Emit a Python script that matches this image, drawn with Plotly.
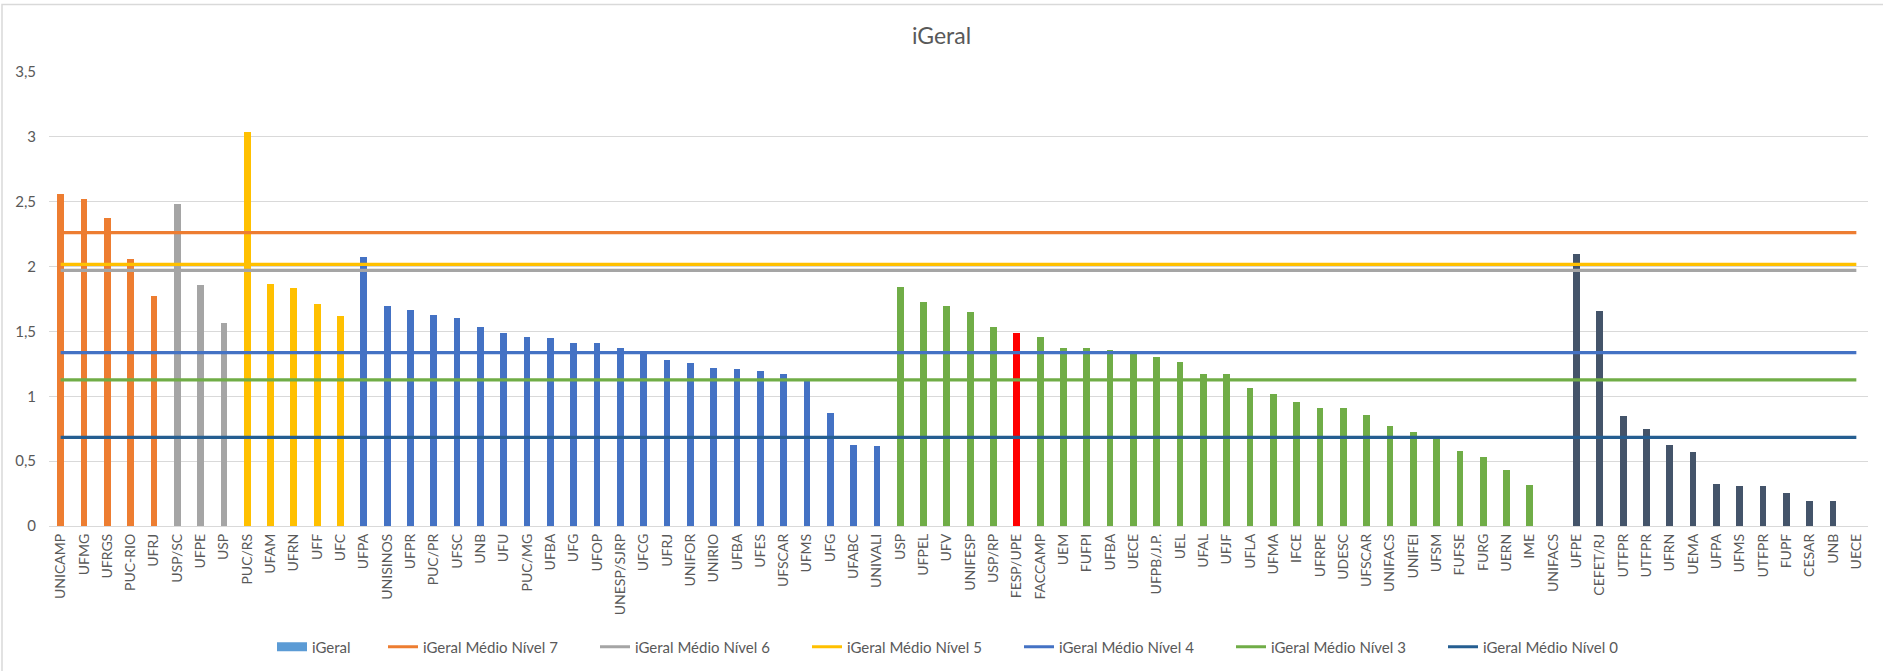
import plotly.graph_objects as go

# ---------------- data ----------------
categories = [
    "UNICAMP", "UFMG", "UFRGS", "PUC-RIO", "UFRJ",
    "USP/SC", "UFPE", "USP",
    "PUC/RS", "UFAM", "UFRN", "UFF", "UFC",
    "UFPA", "UNISINOS", "UFPR", "PUC/PR", "UFSC", "UNB", "UFU", "PUC/MG", "UFBA", "UFG",
    "UFOP", "UNESP/SJRP", "UFCG", "UFRJ", "UNIFOR", "UNIRIO", "UFBA", "UFES", "UFSCAR",
    "UFMS", "UFG", "UFABC", "UNIVALI",
    "USP", "UFPEL", "UFV", "UNIFESP", "USP/RP", "FESP/UPE", "FACCAMP", "UEM", "FUFPI",
    "UFBA", "UECE", "UFPB/J.P.", "UEL", "UFAL", "UFJF", "UFLA", "UFMA", "IFCE", "UFRPE",
    "UDESC", "UFSCAR", "UNIFACS", "UNIFEI", "UFSM", "FUFSE", "FURG", "UERN", "IME", "UNIFACS",
    "UFPE", "CEFET/RJ", "UTFPR", "UTFPR", "UFRN", "UEMA", "UFPA", "UFMS", "UTFPR", "FUPF",
    "CESAR", "UNB", "UECE",
]

igeral = [
    2.56, 2.52, 2.375, 2.055, 1.77,
    2.48, 1.857, 1.565,
    3.036, 1.862, 1.837, 1.714, 1.62,
    2.075, 1.694, 1.667, 1.625, 1.60, 1.537, 1.49, 1.457, 1.449, 1.413,
    1.413, 1.369, 1.33, 1.278, 1.259, 1.22, 1.212, 1.195, 1.17,
    1.12, 0.87, 0.625, 0.62,
    1.843, 1.727, 1.694, 1.647, 1.537, 1.49, 1.457, 1.369, 1.369,
    1.36, 1.33, 1.30, 1.264, 1.17, 1.17, 1.063, 1.019, 0.958, 0.906,
    0.906, 0.856, 0.768, 0.727, 0.677, 0.575, 0.531, 0.432, 0.319, 0.0,
    2.096, 1.658, 0.851, 0.749, 0.625, 0.57, 0.325, 0.305, 0.305, 0.258,
    0.19, 0.19, 0.0,
]

# program level (Nível) of each bar
nivel = [7] * 5 + [6] * 3 + [5] * 5 + [4] * 23 + [3] * 29 + [0] * 13
highlight = "FESP/UPE"

avg_names = ["iGeral Médio Nível 7", "iGeral Médio Nível 6", "iGeral Médio Nível 5",
             "iGeral Médio Nível 4", "iGeral Médio Nível 3", "iGeral Médio Nível 0"]
avg_levels = [7, 6, 5, 4, 3, 0]
avg_values = [2.262, 1.970, 2.017, 1.336, 1.127, 0.683]

y_ticks = [0, 0.5, 1, 1.5, 2, 2.5, 3, 3.5]

# ---------------- style ----------------
bar_colors = {7: "#ED7D31", 6: "#A5A5A5", 5: "#FFC000", 4: "#4472C4", 3: "#70AD47", 0: "#44546A"}
line_colors = {7: "#ED7D31", 6: "#A5A5A5", 5: "#FFC000", 4: "#4472C4", 3: "#70AD47", 0: "#255E91"}
highlight_color = "#FF0000"
text_color = "#595959"
grid_color = "#D9D9D9"
FONT = "Lato"

W, H = 1883, 671
ML, MR, MT, MB = 49, 15, 72, 145

x = list(range(len(categories)))
colors = [highlight_color if c == highlight else bar_colors[n] for c, n in zip(categories, nivel)]

fig = go.Figure()
fig.add_trace(go.Bar(
    x=x, y=igeral, width=0.29, marker=dict(color=colors, line=dict(width=0)),
    name="iGeral", showlegend=False, hovertext=categories,
))
# legend swatch for the bar series
fig.add_trace(go.Scatter(
    x=[None], y=[None], mode="lines", name="iGeral",
    line=dict(color="#5B9BD5", width=9), legend="legend",
))
for name, lvl, val in zip(avg_names, avg_levels, avg_values):
    fig.add_trace(go.Scatter(
        x=[x[0], x[-1]], y=[val, val], mode="lines", name=name,
        line=dict(color=line_colors[lvl], width=3.2), legend="legend2",
    ))

# chart border (Excel chart area outline)
pw = W - ML - MR
ph = H - MT - MB
fig.add_shape(type="rect", xref="paper", yref="paper",
              x0=(2 - ML) / pw, x1=(W + 5 - ML) / pw,
              y0=(H - MB - (H + 5)) / ph, y1=(H - MB - 4.5) / ph,
              line=dict(color="#D9D9D9", width=1.5), layer="below")

fig.update_layout(
    width=W, height=H,
    margin=dict(l=ML, r=MR, t=MT, b=MB, autoexpand=False),
    paper_bgcolor="white", plot_bgcolor="white",
    separators=",.",
    font=dict(family=FONT, color=text_color, size=14),
    title=dict(text="iGeral", x=0.5, xanchor="center", xref="container",
               y=1 - 36 / H, yref="container", yanchor="middle",
               font=dict(family=FONT, size=23, color=text_color)),
    bargap=0,
    showlegend=True,
    legend=dict(orientation="h", xref="container", yref="container",
                x=272 / W, xanchor="left", y=1 - 647 / H, yanchor="middle",
                font=dict(family=FONT, size=15, color=text_color),
                bgcolor="rgba(0,0,0,0)", itemclick=False),
    legend2=dict(orientation="h", xref="container", yref="container",
                 x=383 / W, xanchor="left", y=1 - 647 / H, yanchor="middle",
                 font=dict(family=FONT, size=15, color=text_color),
                 entrywidth=167, entrywidthmode="pixels",
                 bgcolor="rgba(0,0,0,0)", itemclick=False),
)

fig.update_xaxes(
    range=[-0.5, len(categories) - 0.5],
    tickmode="array", tickvals=x, ticktext=categories,
    tickangle=-90, tickfont=dict(family=FONT, size=14, color=text_color),
    showgrid=False, zeroline=False, showline=False, ticks="",
    ticklabelstandoff=4,
)
fig.update_yaxes(
    range=[0, 3.5], tickmode="array", tickvals=y_ticks,
    tickfont=dict(family=FONT, size=15, color=text_color),
    showgrid=True, gridcolor=grid_color, gridwidth=1,
    zeroline=True, zerolinecolor=grid_color, zerolinewidth=1,
    showline=False, ticks="", ticklabelstandoff=12,
)

fig.write_html("out.html")
